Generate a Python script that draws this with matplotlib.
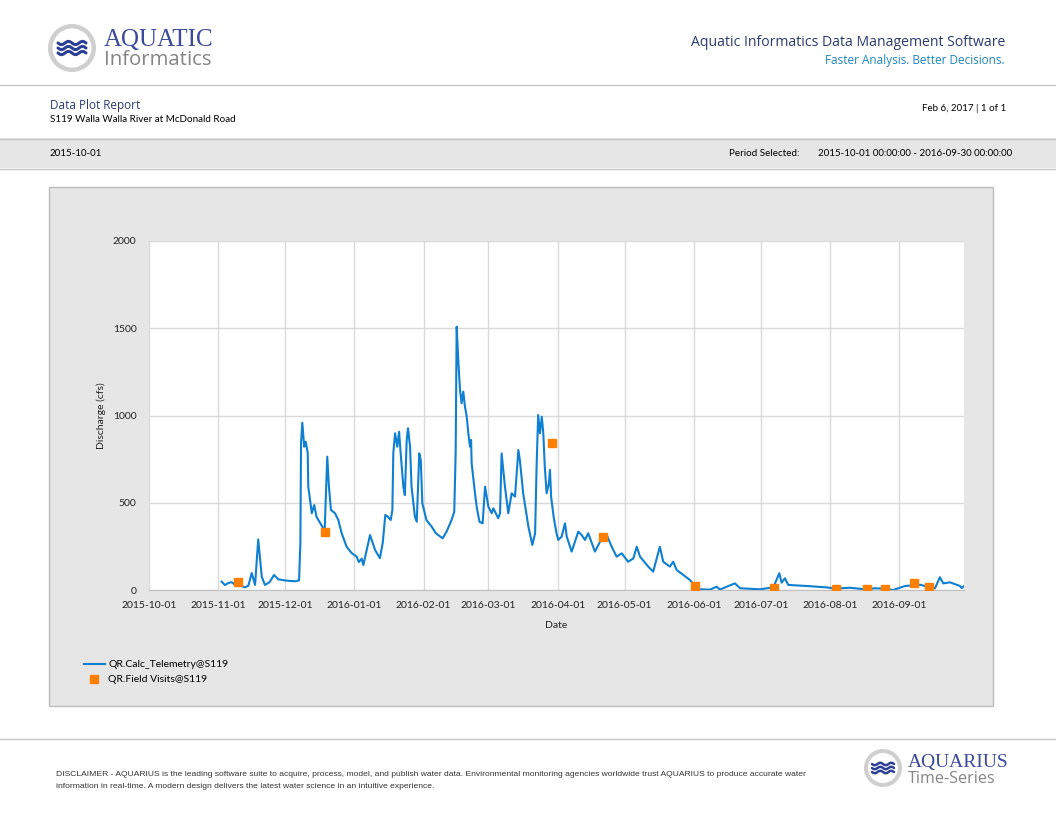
import numpy as np
import pandas as pd
import matplotlib
matplotlib.use("Agg")
import matplotlib.pyplot as plt
import matplotlib.dates as mdates
from matplotlib.patches import Circle, Rectangle

# discharge (cfs)
telemetry_time = [
    "2015-11-02 13:00", "2015-11-04 00:00", "2015-11-05 12:00", "2015-11-07 00:00", "2015-11-08 12:00",
    "2015-11-10 00:00", "2015-11-11 12:00", "2015-11-13 00:00", "2015-11-14 12:00", "2015-11-16 00:00",
    "2015-11-17 12:00", "2015-11-18 22:00", "2015-11-20 12:00", "2015-11-21 22:00", "2015-11-24 00:00",
    "2015-11-26 00:00", "2015-11-27 22:00", "2015-11-30 22:00", "2015-12-03 00:00", "2015-12-05 10:00",
    "2015-12-07 05:00", "2015-12-07 19:00", "2015-12-08 02:00", "2015-12-08 16:00", "2015-12-09 12:00",
    "2015-12-10 05:00", "2015-12-11 02:00", "2015-12-11 08:00", "2015-12-12 22:00", "2015-12-14 00:00",
    "2015-12-15 00:00", "2015-12-17 14:00", "2015-12-18 16:00", "2015-12-19 20:00", "2015-12-20 14:00",
    "2015-12-21 12:00", "2015-12-23 07:00", "2015-12-24 19:00", "2015-12-26 06:00", "2015-12-28 12:00",
    "2015-12-30 18:00", "2016-01-02 00:00", "2016-01-03 00:00", "2016-01-04 06:00", "2016-01-05 00:00",
    "2016-01-08 00:00", "2016-01-10 06:00", "2016-01-12 10:00", "2016-01-13 16:00", "2016-01-14 20:00",
    "2016-01-16 00:00", "2016-01-17 06:00", "2016-01-18 00:00", "2016-01-18 10:00", "2016-01-19 05:00",
    "2016-01-20 05:00", "2016-01-21 00:00", "2016-01-21 17:00", "2016-01-22 22:00", "2016-01-23 14:00",
    "2016-01-24 10:00", "2016-01-25 00:00", "2016-01-25 22:00", "2016-01-26 14:00", "2016-01-28 02:00",
    "2016-01-28 22:00", "2016-01-30 01:00", "2016-01-30 17:00", "2016-01-31 10:00", "2016-02-02 06:00",
    "2016-02-04 14:00", "2016-02-06 12:00", "2016-02-09 12:00", "2016-02-11 06:00", "2016-02-13 12:00",
    "2016-02-14 17:00", "2016-02-15 08:00", "2016-02-15 19:00", "2016-02-16 12:00", "2016-02-17 07:00",
    "2016-02-18 00:00", "2016-02-18 18:00", "2016-02-19 12:00", "2016-02-20 07:00", "2016-02-21 00:00",
    "2016-02-21 18:00", "2016-02-22 06:00", "2016-02-22 12:00", "2016-02-24 00:00", "2016-02-24 18:00",
    "2016-02-26 00:00", "2016-02-27 10:00", "2016-02-28 12:00", "2016-03-01 00:00", "2016-03-02 12:00",
    "2016-03-03 05:00", "2016-03-05 10:00", "2016-03-06 05:00", "2016-03-06 22:00", "2016-03-08 10:00",
    "2016-03-09 22:00", "2016-03-11 10:00", "2016-03-12 22:00", "2016-03-14 10:00", "2016-03-15 02:00",
    "2016-03-16 14:00", "2016-03-18 22:00", "2016-03-20 16:00", "2016-03-21 22:00", "2016-03-22 14:00",
    "2016-03-23 07:00", "2016-03-24 02:00", "2016-03-24 22:00", "2016-03-25 14:00", "2016-03-26 06:00",
    "2016-03-27 02:00", "2016-03-28 02:00", "2016-03-28 14:00", "2016-03-29 02:00", "2016-03-30 05:00",
    "2016-03-31 12:00", "2016-04-01 07:00", "2016-04-02 19:00", "2016-04-04 07:00", "2016-04-05 02:00",
    "2016-04-07 07:00", "2016-04-10 06:00", "2016-04-11 19:00", "2016-04-13 06:00", "2016-04-14 17:00",
    "2016-04-17 17:00", "2016-04-20 00:00", "2016-04-21 12:00", "2016-04-23 00:00", "2016-04-25 05:00",
    "2016-04-27 10:00", "2016-04-29 17:00", "2016-05-02 14:00", "2016-05-04 22:00", "2016-05-06 10:00",
    "2016-05-07 22:00", "2016-05-11 14:00", "2016-05-13 19:00", "2016-05-16 19:00", "2016-05-18 07:00",
    "2016-05-21 07:00", "2016-05-22 19:00", "2016-05-24 07:00", "2016-05-27 07:00", "2016-05-30 07:00",
    "2016-06-01 12:00", "2016-06-03 17:00", "2016-06-08 05:00", "2016-06-11 05:00", "2016-06-12 17:00",
    "2016-06-19 10:00", "2016-06-21 17:00", "2016-06-30 14:00", "2016-07-06 14:00", "2016-07-09 07:00",
    "2016-07-10 07:00", "2016-07-11 19:00", "2016-07-13 07:00", "2016-07-21 12:00", "2016-07-30 12:00",
    "2016-08-03 05:00", "2016-08-09 22:00", "2016-08-17 10:00", "2016-08-21 00:00", "2016-08-24 19:00",
    "2016-08-29 07:00", "2016-09-03 14:00", "2016-09-10 07:00", "2016-09-17 00:00", "2016-09-19 05:00",
    "2016-09-20 17:00", "2016-09-23 17:00", "2016-09-28 05:00", "2016-09-29 00:00", "2016-09-30 00:00",
]
telemetry_cfs = [
    48, 28, 40, 45, 30,
    40, 22, 15, 25, 97,
    29, 290, 76, 29, 45,
    86, 61, 55, 52, 50,
    55, 269, 842, 959, 821,
    850, 785, 592, 440, 487,
    420, 363, 340, 764, 592,
    458, 440, 401, 327, 248,
    212, 191, 160, 180, 143,
    315, 229, 183, 269, 430,
    420, 401, 458, 785, 898,
    821, 907, 783, 592, 544,
    860, 927, 821, 592, 420,
    391, 783, 745, 497, 401,
    363, 325, 296, 334, 401,
    449, 783, 1509, 1318, 1146,
    1070, 1137, 1051, 993, 900,
    821, 860, 726, 554, 477,
    391, 382, 592, 477, 440,
    468, 411, 440, 783, 592,
    440, 554, 535, 802, 745,
    554, 363, 258, 325, 707,
    1003, 898, 993, 898, 707,
    554, 611, 688, 535, 420,
    325, 287, 306, 382, 306,
    220, 334, 315, 287, 325,
    220, 277, 306, 315, 248,
    191, 210, 162, 181, 248,
    191, 134, 105, 248, 162,
    134, 162, 115, 86, 57,
    23, 4, 2, 19, 3,
    38, 10, 4, 15, 96,
    42, 67, 29, 23, 15,
    8, 13, 3, 10, 8,
    0, 23, 30, 10, 73,
    38, 44, 23, 11, 23,
]

visit_time = ["2015-11-10 00:00", "2015-12-18 16:00", "2016-03-29 07:00", "2016-04-21 12:00",
              "2016-06-01 12:00", "2016-07-07 00:00", "2016-08-03 12:00", "2016-08-17 10:00",
              "2016-08-25 12:00", "2016-09-07 12:00", "2016-09-14 10:00"]
visit_cfs = [46, 331, 841, 306, 23, 13, 5, 3, 3, 42, 19]

y_ticks = [0, 500, 1000, 1500, 2000]

navy = "#2b3a6e"
blue = "#0f7fd0"
orange = "#ff8000"
panel = "#e6e6e6"
rule = "#c6c6c6"
font = ["Lato", "DejaVu Sans"]
narrow = ["Liberation Sans Narrow", "Liberation Sans", "DejaVu Sans"]

plt.rcParams["font.family"] = font

fig = plt.figure(figsize=(10.56, 8.16), dpi=100)
page = fig.add_axes([0, 0, 1, 1])
page.set_xlim(0, 1056)
page.set_ylim(816, 0)
page.axis("off")

# header logo
page.add_patch(Circle((72, 48), 24, facecolor="#cfcfcf", edgecolor="none"))
page.add_patch(Circle((72, 48), 19.5, facecolor="white", edgecolor="none"))
wx = np.linspace(58, 86, 60)
for dy in (-5, 0, 5):
    page.plot(wx, 48 + dy + 1.6 * np.sin((wx - 58) / 28 * 4 * np.pi), color="#2b3f94", lw=2.2,
              solid_capstyle="round")
page.text(104, 46, "AQUATIC", fontsize=18, color="#3b4a9c", family=["Liberation Serif"], va="baseline")
page.text(104, 65, "Informatics", fontsize=14.7, color="#858585", family=["Open Sans"], va="baseline")

page.text(1005, 46, "Aquatic Informatics Data Management Software", fontsize=10.1, color=navy,
          ha="right", va="baseline", family=["Open Sans"])
page.text(1005, 64, "Faster Analysis. Better Decisions.", fontsize=8.5, color="#1d86bf",
          ha="right", va="baseline", family=["Open Sans"])
page.plot([0, 1056], [84.5, 84.5], color=rule, lw=1)

page.text(50, 109, "Data Plot Report", fontsize=8.5, color=navy, va="baseline", family=["Open Sans"])
page.text(50, 122, "S119 Walla Walla River at McDonald Road", fontsize=7.1, color="black",
          va="baseline", family=font)
page.text(1006, 111, "Feb 6, 2017 | 1 of 1", fontsize=7.0, color="black", ha="right", va="baseline")

page.add_patch(Rectangle((0, 138), 1056, 30, facecolor=panel, edgecolor="none"))
page.plot([0, 1056], [138.5, 138.5], color=rule, lw=1)
page.plot([0, 1056], [168.5, 168.5], color=rule, lw=1)
page.text(50, 156, "2015-10-01", fontsize=7.0, color="black", va="baseline")
page.text(729, 156, "Period Selected:", fontsize=7.1, color="black", va="baseline")
page.text(818, 156, "2015-10-01 00:00:00 - 2016-09-30 00:00:00", fontsize=7.0, color="black",
          va="baseline")

# chart panel
page.add_patch(Rectangle((48.5, 186.5), 944, 519, facecolor=panel, edgecolor="#bdbdbd", lw=1))

# footer
page.plot([0, 1056], [738.5, 738.5], color=rule, lw=1)
disclaimer = ["DISCLAIMER - AQUARIUS is the leading software suite to acquire, process, model, and publish "
              "water data. Environmental monitoring agencies worldwide trust AQUARIUS to produce accurate water",
              "information in real-time. A modern design delivers the latest water science in an intuitive experience."]
page.text(56, 776, disclaimer[0], fontsize=6.1, color="#333333", va="baseline", family=narrow)
page.text(56, 788, disclaimer[1], fontsize=6.1, color="#333333", va="baseline", family=narrow)
page.add_patch(Circle((883, 768), 19, facecolor="#cfcfcf", edgecolor="none"))
page.add_patch(Circle((883, 768), 15, facecolor="white", edgecolor="none"))
wx = np.linspace(872, 894, 50)
for dy in (-4, 0, 4):
    page.plot(wx, 768 + dy + 1.2 * np.sin((wx - 872) / 22 * 4 * np.pi), color="#2b3f94", lw=1.8,
              solid_capstyle="round")
page.text(908, 767, "AQUARIUS", fontsize=14, color="#3b4a9c", family=["Liberation Serif"], va="baseline")
page.text(908, 783, "Time-Series", fontsize=11.6, color="#858585", family=["Open Sans"], va="baseline")

# plot
ax = fig.add_axes([149 / 1056, 1 - 590 / 816, 815 / 1056, 349 / 816])
ax.set_facecolor("white")
t = pd.to_datetime(telemetry_time, format="%Y-%m-%d %H:%M")
v = pd.to_datetime(visit_time, format="%Y-%m-%d %H:%M")
ax.plot(t, telemetry_cfs, color=blue, lw=1.5, label="QR.Calc_Telemetry@S119", zorder=3)
ax.plot(v, visit_cfs, ls="none", marker="s", ms=6.2, color=orange, mec=orange,
        label="QR.Field Visits@S119", zorder=4)

ax.set_xlim(pd.Timestamp("2015-10-01"), pd.Timestamp("2016-09-30"))
ax.set_ylim(0, 2000)
ax.set_yticks(y_ticks)
ax.xaxis.set_major_locator(mdates.MonthLocator())
ax.xaxis.set_major_formatter(mdates.DateFormatter("%Y-%m-%d"))
ax.grid(True, color="#d9d9d9", lw=1)
ax.set_axisbelow(True)
for s in ("top", "right", "left"):
    ax.spines[s].set_visible(False)
ax.spines["bottom"].set_color("#c0c0c0")
ax.tick_params(length=0, labelsize=7.5, colors="#222222", pad=8)
ax.tick_params(axis="y", pad=9)
ax.set_xlabel("Date", fontsize=7.5, color="#222222", labelpad=8)
ax.set_ylabel("Discharge (cfs)", fontsize=7.5, color="#222222", labelpad=5)

ax.legend(loc="upper left", bbox_to_anchor=(84 / 1056, 1 - 660 / 816), bbox_transform=fig.transFigure,
          frameon=False, fontsize=7.5, handlelength=2.0, handletextpad=0.35, labelspacing=0.55,
          borderaxespad=0, borderpad=0)

fig.savefig("out.png", dpi=100)
